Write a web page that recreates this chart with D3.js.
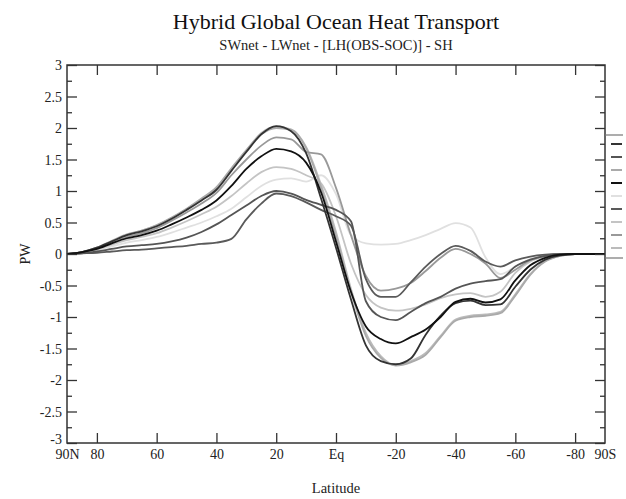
<!DOCTYPE html>
<html>
<head>
<meta charset="utf-8">
<script src="https://cdn.jsdelivr.net/npm/d3@7"></script>
<style>
  html, body { margin: 0; padding: 0; background: #fff; }
  svg { display: block; }
  text { font-family: "Liberation Serif", "DejaVu Serif", serif; fill: #222; }
</style>
</head>
<body>
<svg id="chart" width="626" height="499"></svg>
<script>
// ---------- data ----------
const lats = [90,85,80,75,70,65,60,55,50,45,40,35,30,25,20,15,10,5,0,-5,-10,-15,-20,-25,-30,-35,-40,-45,-50,-55,-60,-65,-70,-75,-80,-85,-90];

const seriesNames = ["s1","s2","s3","s4","s5","s6","s7","s8","s9"];
const seriesColors = ["#333333","#555555","#aaaaaa","#111111","#e0e0e0","#5a5a5a","#c4c4c4","#999999","#bbbbbb"];

const s1 = [0,0.03,0.1,0.2,0.3,0.36,0.44,0.56,0.7,0.85,1.02,1.32,1.62,1.9,2.03,1.95,1.6,0.88,0.1,-0.72,-1.45,-1.7,-1.75,-1.66,-1.28,-0.98,-0.78,-0.74,-0.81,-0.8,-0.52,-0.25,-0.09,-0.02,0,0,0];
const s2 = [0,0.01,0.04,0.08,0.12,0.14,0.16,0.2,0.26,0.35,0.47,0.62,0.77,0.92,1.0,0.96,0.86,0.78,0.7,0.52,-0.75,-1.0,-1.05,-0.92,-0.78,-0.68,-0.55,-0.47,-0.43,-0.4,-0.2,-0.09,-0.03,-0.01,0,0,0];
const s3 = [0,0.03,0.1,0.21,0.31,0.37,0.46,0.58,0.72,0.88,1.06,1.36,1.65,1.9,2.0,1.97,1.68,1.05,0.28,-0.6,-1.3,-1.65,-1.77,-1.72,-1.6,-1.32,-1.06,-1.0,-0.98,-0.94,-0.66,-0.33,-0.12,-0.03,0,0,0];
const s4 = [0,0.03,0.08,0.17,0.25,0.3,0.37,0.47,0.58,0.7,0.85,1.08,1.35,1.55,1.67,1.63,1.45,0.98,0.2,-0.6,-1.15,-1.35,-1.42,-1.32,-1.2,-1.0,-0.76,-0.71,-0.77,-0.72,-0.42,-0.18,-0.06,-0.01,0,0,0];
const s5 = [0,0.02,0.06,0.12,0.18,0.22,0.27,0.34,0.42,0.5,0.6,0.72,0.9,1.08,1.18,1.2,1.15,1.25,0.95,0.3,0.17,0.15,0.16,0.22,0.3,0.4,0.49,0.42,-0.05,-0.32,-0.2,-0.08,-0.02,0,0,0,0];
const s6 = [0,0.01,0.02,0.04,0.06,0.07,0.09,0.11,0.13,0.16,0.18,0.24,0.55,0.8,0.96,0.92,0.82,0.7,0.6,0.45,-0.4,-0.68,-0.68,-0.45,-0.2,0.0,0.13,0.05,-0.12,-0.2,-0.1,-0.04,-0.01,0,0,0,0];
const s7 = [0,0.02,0.07,0.15,0.22,0.27,0.33,0.42,0.52,0.63,0.75,0.92,1.12,1.3,1.38,1.35,1.25,1.12,0.6,-0.15,-0.65,-0.85,-0.9,-0.87,-0.8,-0.7,-0.64,-0.62,-0.68,-0.6,-0.3,-0.12,-0.04,0,0,0,0];
const s8 = [0,0.03,0.09,0.18,0.27,0.33,0.41,0.53,0.66,0.8,0.97,1.25,1.5,1.72,1.85,1.82,1.62,1.58,1.05,0.3,-0.35,-0.58,-0.55,-0.46,-0.27,-0.06,0.08,0.0,-0.15,-0.38,-0.25,-0.1,-0.03,0,0,0,0];
const s9 = [0,0.03,0.1,0.2,0.3,0.37,0.45,0.57,0.71,0.87,1.04,1.34,1.64,1.92,2.02,1.98,1.7,1.1,0.35,-0.55,-1.25,-1.62,-1.76,-1.7,-1.57,-1.3,-1.04,-0.98,-0.96,-0.92,-0.64,-0.32,-0.11,-0.03,0,0,0];
const seriesValues = [s1,s2,s3,s4,s5,s6,s7,s8,s9];
const drawOrder = [4,6,8,2,7,5,1,0,3];

const yMajor = [-3,-2.5,-2,-1.5,-1,-0.5,0,0.5,1,1.5,2,2.5,3];
const yMinor = [-2.75,-2.25,-1.75,-1.25,-0.75,-0.25,0.25,0.75,1.25,1.75,2.25,2.75];
const xTickVals = [80,60,40,20,0,-20,-40,-60,-80];
const xLabelVals = [90,80,60,40,20,0,-20,-40,-60,-80,-90];
const xLabels = ["90N","80","60","40","20","Eq","-20","-40","-60","-80","90S"];

const titleText = "Hybrid Global Ocean Heat Transport";
const subtitleText = "SWnet - LWnet - [LH(OBS-SOC)] - SH";
const xTitle = "Latitude";
const yTitle = "PW";

// ---------- layout ----------
const L = 67, R = 605, T = 65, B = 443;
const FONT = '"Liberation Serif", "DejaVu Serif", serif';
const svg = d3.select("#chart");
const x = d3.scaleLinear().domain([90,-90]).range([L,R]);
const y = d3.scaleLinear().domain([-3,3]).range([B,T]);
const axisColor = "#333";

// titles
svg.append("text").attr("x",(L+R)/2).attr("y",29).attr("text-anchor","middle")
  .style("font-family",FONT).style("font-size","22px").style("fill","#111").text(titleText);
svg.append("text").attr("x",(L+R)/2).attr("y",50).attr("text-anchor","middle")
  .style("font-family",FONT).style("font-size","14.5px").style("fill","#222").text(subtitleText);

// lines
const line = d3.line().x((d,i)=>x(lats[i])).y(d=>y(d)).curve(d3.curveMonotoneX);
const gLines = svg.append("g");
drawOrder.forEach(k=>{
  gLines.append("path").datum(seriesValues[k])
    .attr("d",line).attr("fill","none")
    .attr("stroke",seriesColors[k]).attr("stroke-width",1.8)
    .attr("stroke-linejoin","round");
});

// axes (ticks inward)
function styleAxis(g){
  g.attr("font-family",null);
  g.select(".domain").remove();
  g.selectAll(".tick line").attr("stroke",axisColor).attr("stroke-width",1.3);
  g.selectAll(".tick text").style("font-family",FONT).style("font-size","14px").style("fill","#222");
}
const gl = svg.append("g").attr("transform",`translate(${L},0)`)
  .call(d3.axisLeft(y).tickValues(yMajor).tickSize(-10).tickPadding(5)
    .tickFormat(d=>String(d)));
styleAxis(gl);
gl.selectAll(".tick text").attr("dy",d=> d===-3 ? "0.05em" : "0.35em");
const glm = svg.append("g").attr("transform",`translate(${L},0)`)
  .call(d3.axisLeft(y).tickValues(yMinor).tickSize(-5).tickFormat(""));
styleAxis(glm);
const gr = svg.append("g").attr("transform",`translate(${R},0)`)
  .call(d3.axisRight(y).tickValues(yMajor).tickSize(-10).tickFormat(""));
styleAxis(gr);
const grm = svg.append("g").attr("transform",`translate(${R},0)`)
  .call(d3.axisRight(y).tickValues(yMinor).tickSize(-5).tickFormat(""));
styleAxis(grm);
const gb = svg.append("g").attr("transform",`translate(0,${B})`)
  .call(d3.axisBottom(x).tickValues(xTickVals).tickSize(-10).tickFormat(""));
styleAxis(gb);
const gt = svg.append("g").attr("transform",`translate(0,${T})`)
  .call(d3.axisTop(x).tickValues(xTickVals).tickSize(-10).tickFormat(""));
styleAxis(gt);

// x labels
const gxl = svg.append("g").attr("transform",`translate(0,${B})`)
  .call(d3.axisBottom(x).tickValues(xLabelVals).tickSize(0).tickPadding(6)
    .tickFormat((d,i)=>xLabels[i]));
styleAxis(gxl);

// frame
svg.append("rect").attr("x",L).attr("y",T).attr("width",R-L).attr("height",B-T)
  .attr("fill","none").attr("stroke",axisColor).attr("stroke-width",1.5);

// axis titles
svg.append("text").attr("x",(L+R)/2).attr("y",493).attr("text-anchor","middle")
  .style("font-family",FONT).style("font-size","14.5px").text(xTitle);
svg.append("text").attr("transform",`translate(30,${y(0)}) rotate(-90)`)
  .attr("text-anchor","middle").style("font-family",FONT).style("font-size","14px").text(yTitle);

// legend stub (cut at the right edge)
const ly = d3.scalePoint().domain(seriesNames).range([144,248]);
const gLeg = svg.append("g");
gLeg.append("line").attr("x1",R).attr("x2",623).attr("y1",135).attr("y2",135)
  .attr("stroke","#777").attr("stroke-width",1.2);
gLeg.append("line").attr("x1",R).attr("x2",623).attr("y1",258).attr("y2",258)
  .attr("stroke","#777").attr("stroke-width",1.2);
seriesNames.forEach((n,i)=>{
  gLeg.append("line").attr("x1",611).attr("x2",622)
    .attr("y1",ly(n)).attr("y2",ly(n))
    .attr("stroke",seriesColors[i]).attr("stroke-width",2);
});
</script>
</body>
</html>
